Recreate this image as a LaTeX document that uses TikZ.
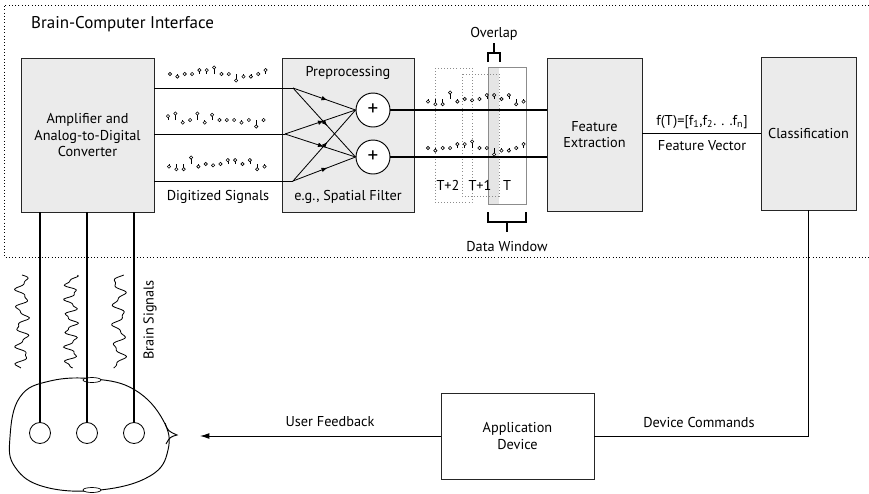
\documentclass[tikz,border=0pt]{standalone}
\usepackage{fontspec}
\setmainfont{PT Sans}
\usetikzlibrary{arrows.meta,decorations.markings}

\begin{document}
\begin{tikzpicture}[x=0.03cm,y=-0.03cm,
    every node/.style={font=\fontsize{12.2}{14}\selectfont,align=center},
    box/.style={draw=black!85,fill=black!8,line width=0.8pt,inner sep=0pt},
    sum/.style={circle,draw,line width=0.8pt,fill=white,minimum size=1.02cm,inner sep=0pt,font=\fontsize{18}{18}\selectfont},
    electrode/.style={circle,draw,line width=0.7pt,minimum size=0.63cm,inner sep=0pt},
    line/.style={line width=1.1pt},
    wire/.style={line width=0.7pt,postaction={decorate},
        decoration={markings,mark=at position 0.55 with {\arrow{Latex[length=5pt,width=4pt]}}}},
    win/.style={draw=black!45,dotted,line width=0.6pt},
    bracket/.style={line width=1pt},
    stem/.style={line width=0.5pt}]
    \useasboundingbox (0,0) rectangle (869,493);

    % interface frame
    \draw[dotted,line width=0.8pt] (869,5) -| (4,257) -- (869,257);
    \node[anchor=west,font=\fontsize{14.5}{16}\selectfont] (bci) at (27,24) {Brain-Computer Interface};

    % processing chain
    \node[box,minimum width=3.99cm,minimum height=4.62cm] (amp) at (87.5,135) {Amplifier and\\Analog-to-Digital\\Converter};
    \node[box,minimum width=3.96cm,minimum height=4.62cm] (pre) at (348,135) {};
    \node (prel) at (348,73) {Preprocessing};
    \node (spf) at (348,197) {e.g., Spatial Filter};
    \node (dig) at (218,197) {Digitized Signals};
    \node[box,minimum width=2.85cm,minimum height=4.59cm] (fe) at (594.5,134.5) {Feature\\Extraction};
    \node[box,minimum width=2.85cm,minimum height=4.59cm] (cls) at (808.5,133.5) {Classification};
    \node[draw=black!85,fill=white,line width=0.8pt,minimum width=4.59cm,minimum height=2.58cm] (app) at (517.5,436) {Application\\Device};

    % spatial filter
    \node[sum] (c1) at (373,110) {+};
    \node[sum] (c2) at (373,157) {+};
    \coordinate (p1) at (293,88);
    \coordinate (p2) at (285,134);
    \coordinate (p3) at (293,181);
    \foreach \p in {p1,p2,p3} {
        \draw[line width=0.8pt] (amp.east |- \p) -- (\p);
        \draw[wire] (\p) -- (c1.west);
        \draw[wire] (\p) -- (c2.west);
    }

    % data windows
    \fill[black!10] (488,67) rectangle (499,204);
    \draw[win] (435,68) rectangle (472,202);
    \draw[win] (462,74) rectangle (499,196);
    \draw[draw=black!45,line width=0.8pt] (488,67) rectangle (526,204);
    \node (t2) at (448,185) {T+2};
    \node (t1) at (480,185) {T+1};
    \node (t0) at (507,185) {T};

    \draw[line] (c1.east) -- (fe.west |- c1);
    \draw[line] (c2.east) -- (fe.west |- c2);
    \draw[line] (fe.east |- cls) -- (cls.west);

    % sampled signals
    \foreach \x/\y/\vals in {
        170/74/{0,-2,0,0,3,3,5,0,0,-5,-2,-2,0,3},
        168/120/{3,5,-2,0,5,-2,4,0,0,0,-2,0,-5,0},
        169/164/{-2,-4,-4,5,-2,0,-1,0,3,3,0,3,-4,-2},
        428/99/{-2,-4,-4,5,-2,0,-1,0,3,3,0,3,-4,-2},
        428/148/{0,-2,0,0,3,3,5,0,0,-5,-2,-2,0,3}} {
        \foreach \v [count=\i from 0] in \vals {
            \draw[stem] (\x+7.35*\i,\y) -- (\x+7.35*\i,\y-1.3*\v);
            \filldraw[stem,fill=white] (\x+7.35*\i,\y-1.3*\v) circle (1.4pt);
        }
    }

    % brackets
    \node (ovl) at (494,34) {Overlap};
    \draw[bracket] (488,62) |- (500,53) -- (500,62);
    \draw[bracket] (494,53) -- (494,43);
    \node (dw) at (507,247) {Data Window};
    \draw[bracket] (488,212) |- (526,222) -- (526,212);
    \draw[bracket] (507,222) -- (507,232);

    \node (fv) at (702,122) {f(T)=[f\textsubscript{1},f\textsubscript{2}. . .f\textsubscript{n}]};
    \node (fvl) at (702,146) {Feature Vector};

    % head with electrodes
    \draw[line width=0.8pt] plot[smooth cycle,tension=0.7] coordinates
        {(10,437) (20,397) (50,381) (95,379) (135,390) (163,420) (168,450) (150,476) (100,490) (45,487) (15,467)};
    \draw[line width=0.8pt] (165,423) .. controls (168,431) .. (177,435) .. controls (170,437) .. (166,444);
    \draw[line width=0.6pt,fill=white] (92,380) ellipse (9 and 2.5);
    \draw[line width=0.6pt,fill=white] (92,490) ellipse (9 and 2.5);
    \node[electrode] (e1) at (40,433) {};
    \node[electrode] (e2) at (87,433) {};
    \node[electrode] (e3) at (134,433) {};
    \foreach \e in {e1,e2,e3}
        \draw[line] (amp.south -| \e) -- (\e);

    % brain signals
    \foreach \x/\ph/\k in {22/0/19, 71/60/23, 119/140/17}
        \draw[line width=0.7pt] plot[smooth,samples=90,domain=0:93,variable=\t]
            ({\x+5.5*sin(\k*\t+\ph)+2*sin(2.3*\k*\t+\ph)},{275+\t});
    \node[rotate=90] (bs) at (150,320) {Brain Signals};

    % feedback loop
    \node (dc) at (699,422) {Device Commands};
    \node (uf) at (330,422) {User Feedback};
    \coordinate (fb) at (200,436);
    \draw[line width=0.8pt] (cls.south) |- (app.east);
    \draw[line width=0.8pt,-{Latex[length=8pt,width=5pt]}] (app.west) -- (fb);
\end{tikzpicture}
\end{document}
